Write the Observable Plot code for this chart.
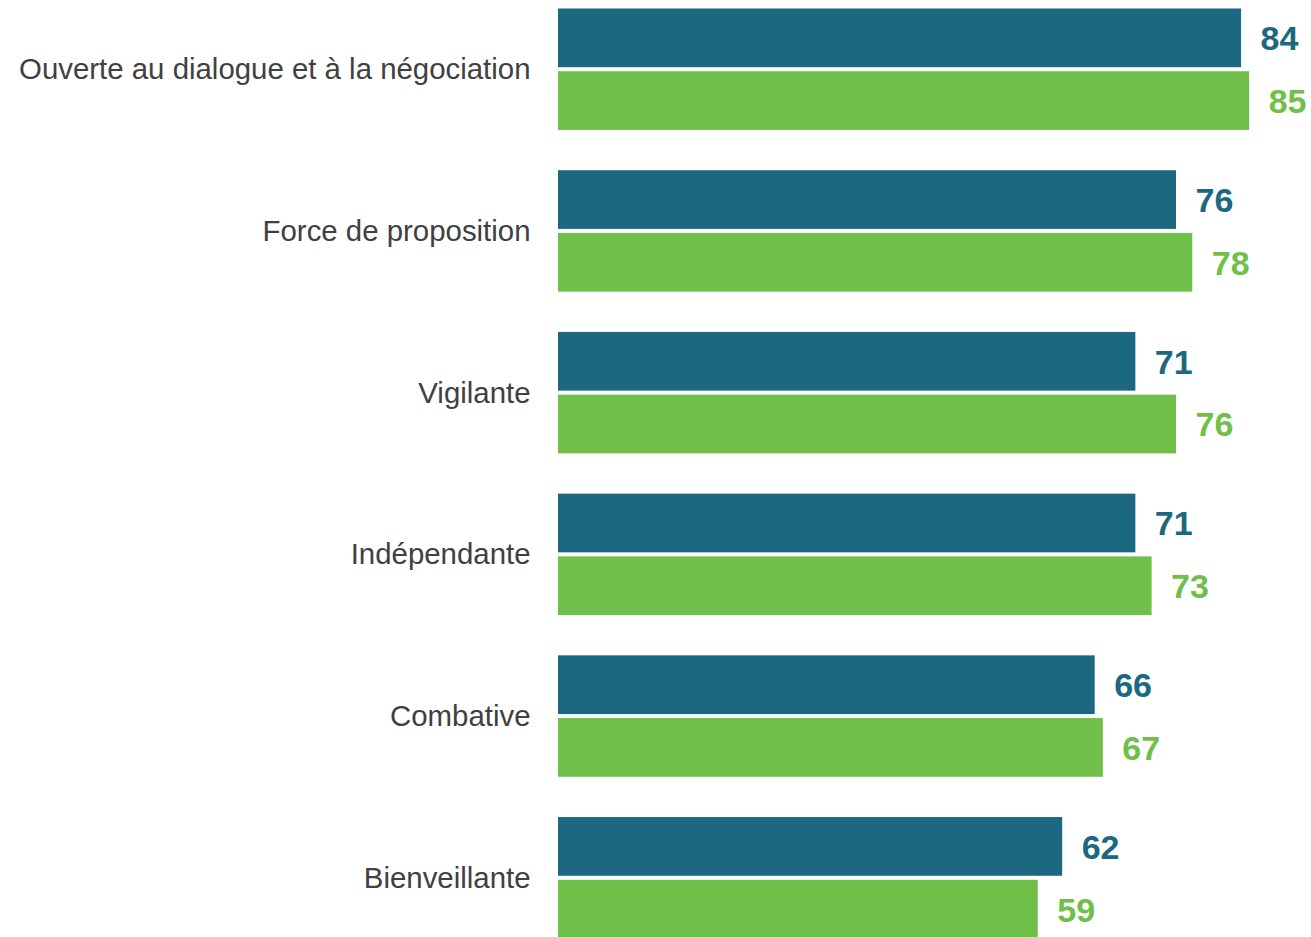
<!DOCTYPE html>
<html><head><meta charset="utf-8">
<script src="https://cdn.jsdelivr.net/npm/d3@7"></script>
<script src="https://cdn.jsdelivr.net/npm/@observablehq/plot@0.6"></script>
<style>body{margin:0;background:#fff} svg{display:block;overflow:visible}</style>
</head><body><div id="chart"></div>
<script>
const categories = ["Ouverte au dialogue et à la négociation","Force de proposition","Vigilante","Indépendante","Combative","Bienveillante"];
const series = ["Série 1","Série 2"];
const values1 = [84,76,71,71,66,62];
const values2 = [85,78,76,73,67,59];
const colors = ["#1c6880","#70bf4a"];
const data = categories.flatMap((c,i)=>[
  {category:c, serie:series[0], value:values1[i]},
  {category:c, serie:series[1], value:values2[i]}
]);
const chart = Plot.plot({
  width:1311, height:940, marginTop:8.5, marginBottom:1.5, marginLeft:558, marginRight:0,
  style:{fontFamily:"'Liberation Sans', Arial, sans-serif", background:"#fff"},
  x:{domain:[0,92.6], axis:null},
  y:{domain:series, axis:null, paddingInner:0.064, paddingOuter:0, round:false},
  fy:{domain:categories, paddingInner:0.249, paddingOuter:0, label:null, round:false},
  color:{domain:series, range:colors},
  marks:[
    Plot.barX(data,{fy:"category", y:"serie", x:"value", fill:"serie"}),
    Plot.text(data,{fy:"category", y:"serie", x:"value", text:d=>String(d.value), fill:"serie", textAnchor:"start", dx:19, dy:1, fontSize:34, fontWeight:"bold"}),
    Plot.axisFy({anchor:"left", tickSize:0, tickPadding:28, fontSize:29.4, color:"#404040", label:null})
  ]
});
document.getElementById("chart").appendChild(chart);
</script></body></html>
